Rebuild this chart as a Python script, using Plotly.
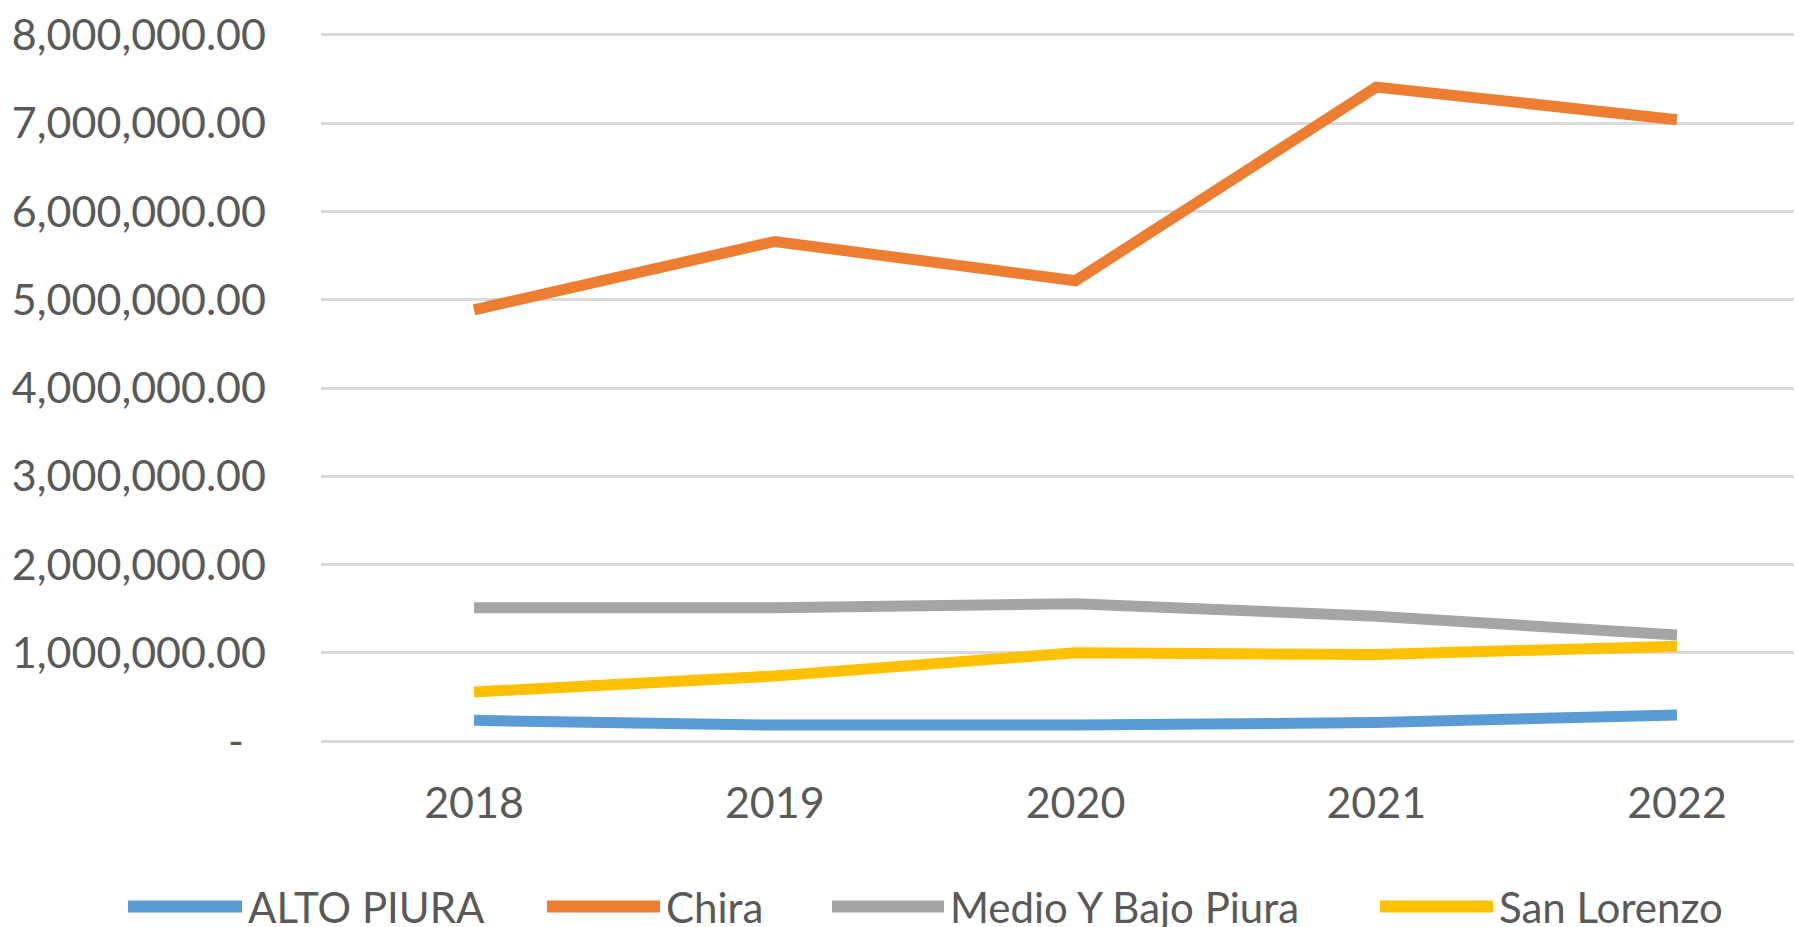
import plotly.graph_objects as go

years = ["2018", "2019", "2020", "2021", "2022"]
series_names = ["ALTO PIURA", "Chira", "Medio Y Bajo Piura", "San Lorenzo"]
alto_piura = [234000, 180000, 180000, 210000, 294000]
chira = [4886000, 5660000, 5216000, 7410000, 7040000]
medio_bajo_piura = [1510000, 1510000, 1555000, 1415000, 1200000]
san_lorenzo = [555000, 736000, 1000000, 980000, 1075000]
y_ticks = [0, 1000000, 2000000, 3000000, 4000000, 5000000, 6000000, 7000000, 8000000]
y_tick_labels = ["-\u00a0\u00a0"] + [f"{v:,.2f}" for v in y_ticks[1:]]

colors = ["#5B9BD5", "#ED7D31", "#A5A5A5", "#FFC000"]
values = [alto_piura, chira, medio_bajo_piura, san_lorenzo]

# page body has an 8px margin: figure drawn 8px in from top-left
OFF = 8
W, H = 1802 - OFF, 927 - OFF
ML, MR, MT, MB = 321 - OFF, 0, 30 - OFF, 183
FONT = "Lato"
TXT = "#595959"
FS = 43

fig = go.Figure()
for name, vals, col in zip(series_names, values, colors):
    fig.add_trace(go.Scatter(x=list(range(len(years))), y=vals, name=name, mode="lines",
                             line=dict(color=col, width=11), showlegend=False))

plot_w = W - ML - MR
plot_h = H - MT - MB
ppu = (741 - 33) / 8e6
y_max = 8e6 + (33 - OFF - MT) / ppu
y_min = -(MT + plot_h - (741 - OFF)) / ppu
step = 300.75
x_min = -((474 - OFF) - ML) / step
x_max = (W - MR - (474 - OFF)) / step

fig.update_layout(
    width=W, height=H,
    margin=dict(l=ML, r=MR, t=MT, b=MB),
    paper_bgcolor="white", plot_bgcolor="white",
    font=dict(family=FONT, size=FS, color=TXT),
    xaxis=dict(range=[x_min, x_max], tickvals=list(range(len(years))), ticktext=years,
               showgrid=False, zeroline=False, showline=False, ticks="",
               ticklabelstandoff=30, tickfont=dict(family=FONT, size=FS, color=TXT)),
    yaxis=dict(range=[y_min, y_max], tickvals=y_ticks, ticktext=y_tick_labels,
               showgrid=True, gridcolor="#D9D9D9", gridwidth=3,
               zeroline=False, showline=False, ticks="", ticklabeloverflow="allow",
               ticklabelstandoff=54, tickfont=dict(family=FONT, size=FS, color=TXT)),
)

# custom legend (long line samples like the original)
leg_line_x = [(128, 242), (547, 660), (832, 944), (1380, 1493)]
leg_y_px = 907 - OFF
def px_to_paper_x(px):
    return (px - OFF - ML) / plot_w
def px_to_paper_y(py):
    return (MT + plot_h - py) / plot_h
for name, col, (x0, x1) in zip(series_names, colors, leg_line_x):
    yp = px_to_paper_y(leg_y_px)
    fig.add_shape(type="line", xref="paper", yref="paper",
                  x0=px_to_paper_x(x0), x1=px_to_paper_x(x1), y0=yp, y1=yp,
                  line=dict(color=col, width=12))
    fig.add_annotation(xref="paper", yref="paper", x=px_to_paper_x(x1 + 5), y=yp,
                       text=name, showarrow=False, xanchor="left", yanchor="middle",
                       borderpad=0, font=dict(family=FONT, size=42, color=TXT))

fig.write_html("out.html")
